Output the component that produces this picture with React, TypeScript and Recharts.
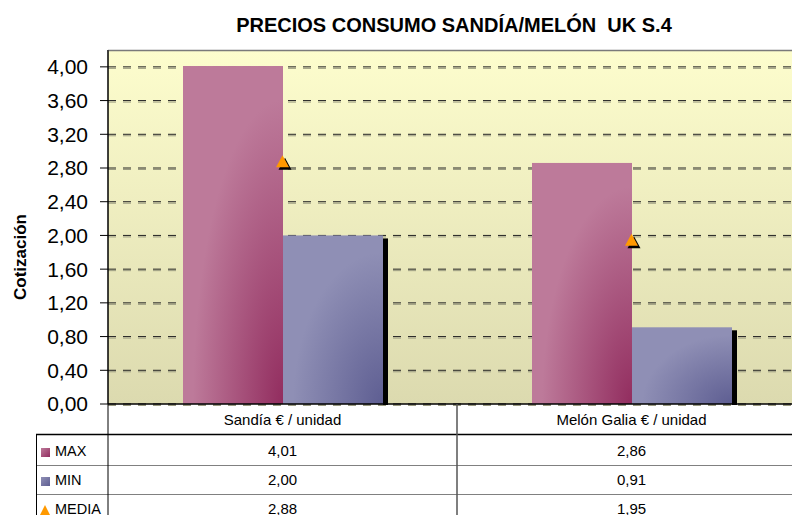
import React from 'react';
import { ComposedChart, Bar, Line, XAxis, YAxis, CartesianGrid } from 'recharts';

const categories = ['Sandía € / unidad', 'Melón Galia € / unidad'];
const maxValues = [4.01, 2.86];
const minValues = [2.0, 0.91];
const mediaValues = [2.88, 1.95];
const yTicks = [0, 0.4, 0.8, 1.2, 1.6, 2.0, 2.4, 2.8, 3.2, 3.6, 4.0];
const seriesNames = ['MAX', 'MIN', 'MEDIA'];

const data = categories.map((name, i) => ({
  name,
  max: maxValues[i],
  min: minValues[i],
  media: mediaValues[i],
}));

const FONT = '"Liberation Sans", Arial, sans-serif';
const fmt = (v: number) => v.toFixed(2).replace('.', ',');

// table rows under the x axis (text centre lines)
const ROW_Y = [450, 479, 508];

const TableColumn = (props: any) => {
  const { x, payload } = props;
  const row = data.find(d => d.name === payload.value);
  if (!row) return null;
  const vals = [row.max, row.min, row.media];
  return (
    <g>
      <text x={x} y={419} textAnchor="middle" dominantBaseline="central" fontSize={15} fill="#000">
        {payload.value}
      </text>
      {vals.map((v, i) => (
        <text key={i} x={x} y={ROW_Y[i]} textAnchor="middle" dominantBaseline="central" fontSize={15} fill="#000">
          {fmt(v)}
        </text>
      ))}
    </g>
  );
};

const MinShape = (props: any) => {
  const { x, y, width, height } = props;
  if (height <= 0) return null;
  return (
    <g>
      <rect x={x + width} y={y + 3} width={5} height={height - 2} fill="#000" />
      <rect x={x} y={y} width={width} height={height} fill="url(#minGrad)" />
    </g>
  );
};

const MaxShape = (props: any) => {
  const { x, y, width, height } = props;
  return <rect x={x} y={y} width={width} height={height} fill="url(#maxGrad)" />;
};

const TriangleDot = (props: any) => {
  const { cx, cy } = props;
  if (cx == null || cy == null) return null;
  const tri = (dx: number, dy: number) =>
    `${cx + dx},${cy - 6 + dy} ${cx - 6.5 + dx},${cy + 6 + dy} ${cx + 6.5 + dx},${cy + 6 + dy}`;
  return (
    <g>
      <polygon points={tri(2.5, 2.5)} fill="#000" />
      <polygon points={tri(0, 0)} fill="#FF9900" />
    </g>
  );
};

export default function App() {
  return (
    <div
      style={{
        position: 'absolute',
        left: 0,
        top: 0,
        width: 792,
        height: 515,
        overflow: 'hidden',
        background: '#fff',
        fontFamily: FONT,
      }}
    >
      <ComposedChart
        width={806}
        height={515}
        data={data}
        margin={{ top: 50, right: 0, bottom: 0, left: 0 }}
        barGap={0}
        barSize={100}
      >
        <defs>
          <linearGradient id="plotBg" x1="0" y1="0" x2="0" y2="1">
            <stop offset="0%" stopColor="#FDFDCD" />
            <stop offset="100%" stopColor="#DCDAAF" />
          </linearGradient>
          <radialGradient id="maxGrad" cx="1" cy="1" r="0.9" fx="1" fy="1">
            <stop offset="0%" stopColor="#922D5F" />
            <stop offset="100%" stopColor="#BD7A9A" />
          </radialGradient>
          <radialGradient id="minGrad" cx="1" cy="1" r="0.9" fx="1" fy="1">
            <stop offset="0%" stopColor="#5E5E92" />
            <stop offset="100%" stopColor="#8F8FB5" />
          </radialGradient>
        </defs>
        {/* background, faint shadow under the dashed grid, then the grid itself */}
        <CartesianGrid vertical={false} stroke="none" fill="url(#plotBg)" />
        <CartesianGrid
          vertical={false}
          horizontalValues={yTicks}
          stroke="#9a9a80"
          strokeDasharray="8 7"
          transform="translate(0,1.5)"
          fill="none"
        />
        <CartesianGrid
          vertical={false}
          horizontalValues={yTicks}
          stroke="#222"
          strokeDasharray="8 7"
          fill="none"
        />
        <XAxis
          dataKey="name"
          height={111}
          axisLine={{ stroke: '#000', strokeWidth: 1.5 }}
          tickLine={false}
          interval={0}
          tick={<TableColumn />}
        />
        <YAxis
          width={108}
          domain={[0, 4.2]}
          ticks={yTicks}
          tickFormatter={fmt}
          tick={{ fontSize: 21, fill: '#000' }}
          tickSize={8}
          tickMargin={12}
          axisLine={{ stroke: '#000' }}
          tickLine={{ stroke: '#000' }}
        />
        <Bar dataKey="max" name="MAX" shape={<MaxShape />} isAnimationActive={false} />
        <Bar dataKey="min" name="MIN" shape={<MinShape />} isAnimationActive={false} />
        <Line
          dataKey="media"
          name="MEDIA"
          stroke="none"
          dot={<TriangleDot />}
          activeDot={false}
          isAnimationActive={false}
        />
      </ComposedChart>

      <svg
        width={792}
        height={515}
        style={{ position: 'absolute', left: 0, top: 0, pointerEvents: 'none' }}
      >
        <defs>
          <linearGradient id="keyMax" x1="0" y1="0" x2="1" y2="1">
            <stop offset="0%" stopColor="#BD7A9A" />
            <stop offset="100%" stopColor="#922D5F" />
          </linearGradient>
          <linearGradient id="keyMin" x1="0" y1="0" x2="1" y2="1">
            <stop offset="0%" stopColor="#8F8FB5" />
            <stop offset="100%" stopColor="#5E5E92" />
          </linearGradient>
        </defs>
        <text
          x={454}
          y={32}
          textAnchor="middle"
          fontSize={20}
          fontWeight="bold"
          fill="#000"
          style={{ whiteSpace: 'pre' }}
        >
          {'PRECIOS CONSUMO SANDÍA/MELÓN  UK S.4'}
        </text>
        <text
          transform="translate(26,257) rotate(-90)"
          textAnchor="middle"
          fontSize={17}
          fontWeight="bold"
          fill="#000"
        >
          Cotización
        </text>

        {/* plot frame top edge */}
        <line x1={108} y1={50.5} x2={792} y2={50.5} stroke="#7a7a7a" strokeWidth={1.5} />

        {/* data table grid */}
        <line x1={36} y1={434.5} x2={792} y2={434.5} stroke="#000" strokeWidth={1.5} />
        <line x1={36} y1={465.5} x2={792} y2={465.5} stroke="#808080" />
        <line x1={36} y1={494.5} x2={792} y2={494.5} stroke="#808080" />
        <line x1={36.5} y1={434} x2={36.5} y2={515} stroke="#000" />
        <line x1={108} y1={50} x2={108} y2={515} stroke="#000" />
        <line x1={457} y1={404} x2={457} y2={515} stroke="#555" strokeWidth={1.5} />

        {/* legend keys */}
        <rect x={41} y={448} width={9} height={9} fill="url(#keyMax)" />
        <rect x={41} y={477} width={9} height={9} fill="url(#keyMin)" />
        <polygon points="45,505 40,515 50,515" fill="#FF9900" />
        {seriesNames.map((s, i) => (
          <text key={s} x={55} y={ROW_Y[i] + 1} dominantBaseline="central" fontSize={14.5} fill="#000">
            {s}
          </text>
        ))}
      </svg>
    </div>
  );
}
